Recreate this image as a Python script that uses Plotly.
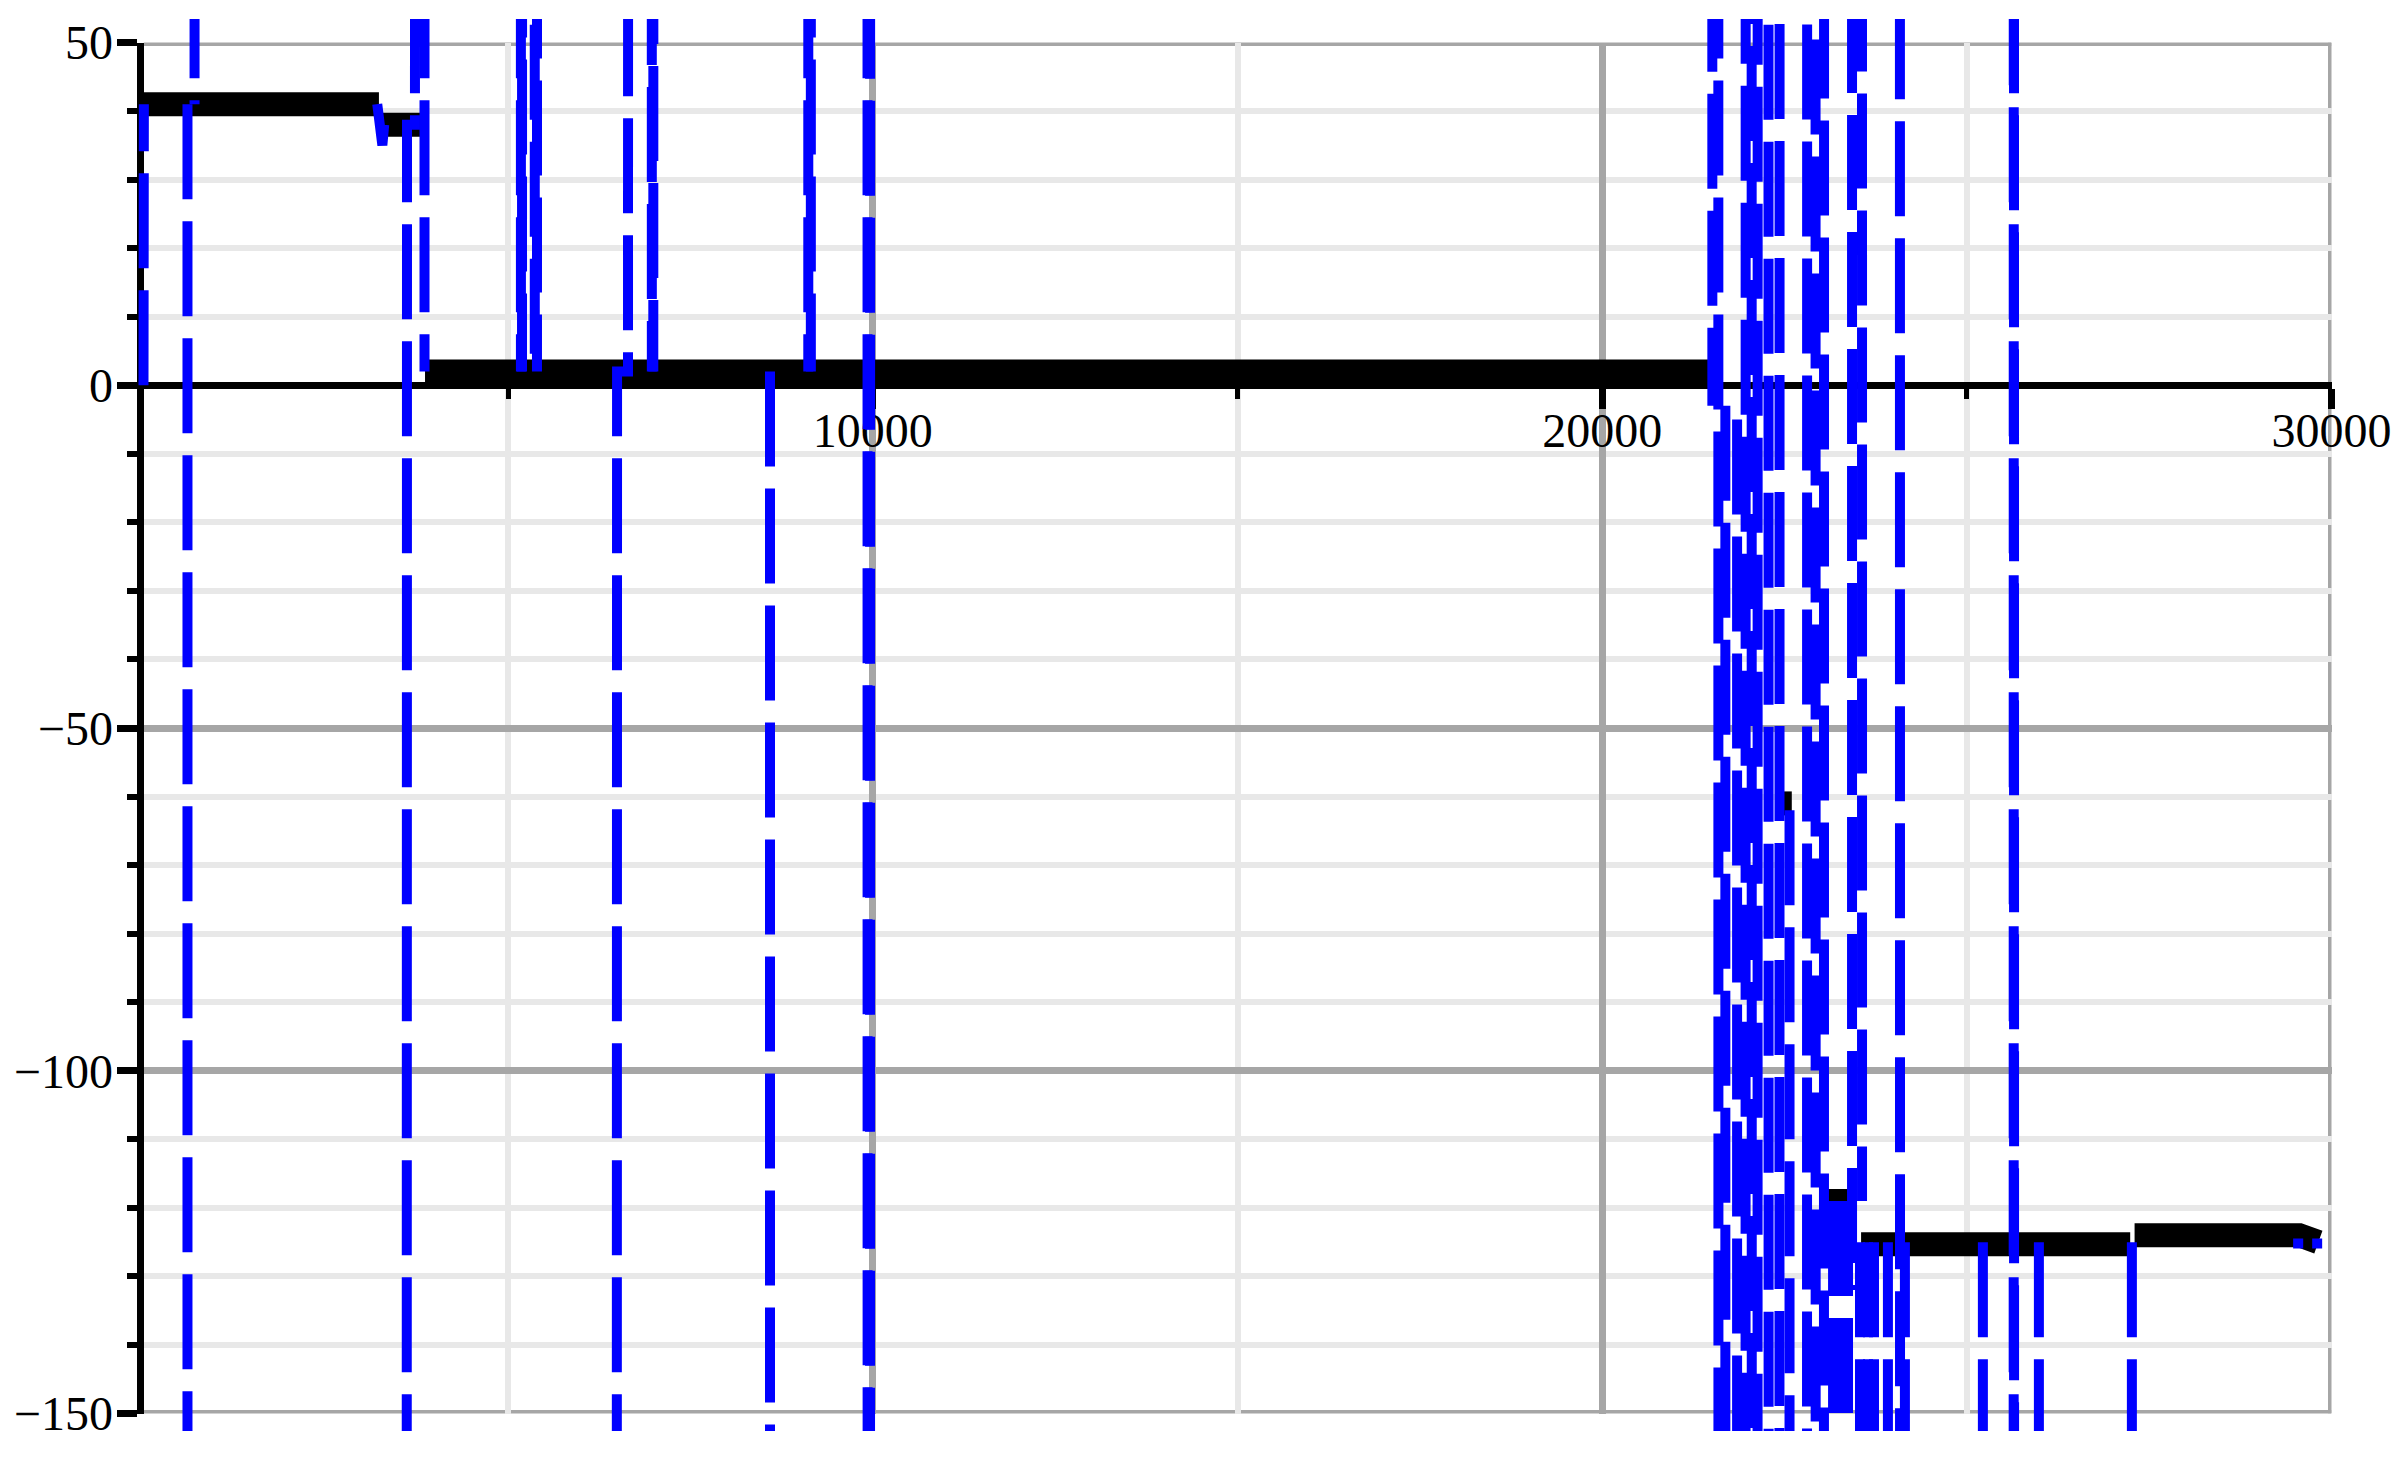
import plotly.graph_objects as go

# ---------------- data ----------------
# black series (None = break in the trace)
black_x = [0, 3228, None, 3240, 3830, None, 3860, 21480, None,
           22480, 22600, None, 23050, 23400, None,
           23550, 27240, None, 27300, 29560, 29820]
black_y = [41, 41, None, 38, 38, None, 2, 2, None,
           -61, -61, None, -119, -119, None,
           -125.3, -125.3, None, -124, -124, -125]

# blue dashed series; values beyond the view (about +/-400) are the off-scale excursions
blue_x = [0, 5, None,
          603, 603, None,
          700, 700, None,
          3205, 3225, 3275, 3300, None,
          3605, 3613, 3722, 3730, None,
          3853, 3853, None,
          5170, 5175, None, 5195, 5190, None,
          5360, 5365, None, 5400, 5395, None,
          6485, 6493, 6643, 6651, None,
          6965, 6970, None, 6995, 6990, None,
          8590, 8590, None,
          9115, 9115, None, 9150, 9150, None,
          9925, 9930, None, 9965, 9960, None,
          # dense region
          21505, 21511, None, 21590, 21596, None, 21689, 21689, None,
          21850, 21850, None, 21964, 21970, None, 22047, 22053, None,
          22129, 22135, None, 22278, 22284, None, 22429, 22435, None,
          22569, 22569, None, 22807, 22813, None, 22923, 22929, None,
          23039, 23045, None, 23166, 23166, None, 23275, 23275, None,
          23371, 23371, None, 23426, 23426, None, 23563, 23563, None,
          23535, 23535, None, 23645, 23645, None, 23727, 23727, None,
          23918, 23918, None, 24151, 24151, None, 24080, 24086, None,
          25220, 25220, None, 25641, 25645, 25649, None,
          25988, 25988, None, 27263, 27263, None,
          29474, 29612, None, 29735, 29872]
blue_y = [0, 41, None,
          41, -400, None,
          400, 41, None,
          41, 38, 35, 38, None,
          -400, 38, 38, 400, None,
          400, 2, None,
          400, 2, None, 423, 2, None,
          411, 2, None, 437, 2, None,
          -400, 2, 2, 400, None,
          419, 2, None, 405, 2, None,
          2, -400, None,
          400, 2, None, 423, 2, None,
          400, -400, None, 417, -411, None,
          # dense region
          418, -3, None, 437, -409, None, -3, -400, None,
          -5, -400, None, -431, 402, None, 425, -415, None,
          -397, 446, None, 411, -436, None, -422, 391, None,
          -62, -400, None, -405, 428, None, 443, -398, None,
          -419, 407, None, -119, -400, None, -119, -400, None,
          -119, -400, None, 432, -132, None, 401, -119, None,
          -125, -400, None, -125, -400, None, -125, -400, None,
          -125, -400, None, -125, -400, None, 414, -427, None,
          -125, -400, None, -400, 400, -388, None,
          -125, -400, None, -125, -400, None,
          -125.2, -125.2, None, -125.2, -125.2]

x_major = [10000, 20000, 30000]
x_minor = [5000, 15000, 25000]
y_range = [-150, 50]
x_range = [0, 30000]

# ---------------- layout geometry ----------------
W, H = 2397, 1463
ML, MR, MT, MB = 100, 30, 10, 20
PW, PH = W - ML - MR, H - MT - MB
X0, X1 = 143.5, 2331.5      # px of x=0 and x=30000
YT, YB = 42.5, 1413.5       # px of y=50 and y=-150


def xp(px):
    return (px - ML) / PW


def yp(px):
    return (H - MB - px) / PH


kx = (X1 - X0) / (x_range[1] - x_range[0])
ky = (YB - YT) / (y_range[1] - y_range[0])
# blue is drawn on an overlay subplot whose clip box is a little larger
bx_range = [-150, 30150]
by_range = [-152.55, 53.43]
bX0 = X0 - (x_range[0] - bx_range[0]) * kx
bX1 = X1 + (bx_range[1] - x_range[1]) * kx
bYT = YT - (by_range[1] - y_range[1]) * ky
bYB = YB + (y_range[0] - by_range[0]) * ky

ydom = [yp(YB), yp(YT)]
xpos = ydom[0] + (0 - y_range[0]) / (y_range[1] - y_range[0]) * (ydom[1] - ydom[0])

font = dict(family="Liberation Serif", size=48, color="black")
GRID_DARK = "#a6a6a6"
GRID_LIGHT = "#e8e8e8"

fig = go.Figure()
fig.add_trace(go.Scatter(x=black_x, y=black_y, mode="lines",
                         line=dict(color="black", width=24),
                         connectgaps=False, hoverinfo="skip"))
fig.add_trace(go.Scatter(x=blue_x, y=blue_y, mode="lines", xaxis="x2", yaxis="y2",
                         line=dict(color="#0000ff", width=10, dash="95px,22px"),
                         connectgaps=False, hoverinfo="skip"))

# frame lines (top, bottom, right) in the major-grid colour
for x0_, y0_, x1_, y1_ in [(x_range[0], y_range[1], x_range[1], y_range[1]),
                           (x_range[0], y_range[0], x_range[1], y_range[0]),
                           (x_range[1], y_range[0], x_range[1], y_range[1])]:
    fig.add_shape(type="line", xref="x", yref="y", x0=x0_, y0=y0_, x1=x1_, y1=y1_,
                  line=dict(color=GRID_DARK, width=7), layer="below")

fig.update_layout(
    width=W, height=H, showlegend=False,
    margin=dict(l=ML, r=MR, t=MT, b=MB, pad=0, autoexpand=False),
    paper_bgcolor="white", plot_bgcolor="rgba(0,0,0,0)",
    font=font,
    xaxis=dict(domain=[xp(X0), xp(X1)], range=x_range, anchor="free", position=xpos,
               showline=True, linecolor="black", linewidth=7,
               tickmode="array", tickvals=x_major, ticktext=[str(v) for v in x_major],
               ticks="outside", ticklen=20, tickwidth=7, tickcolor="black",
               showgrid=True, gridcolor=GRID_DARK, gridwidth=7, zeroline=False,
               tickfont=font, ticklabelstandoff=-20, automargin=False,
               minor=dict(tickmode="array", tickvals=x_minor, ticks="outside",
                          ticklen=10, tickwidth=5, tickcolor="black",
                          showgrid=True, gridcolor=GRID_LIGHT, gridwidth=6)),
    yaxis=dict(domain=ydom, range=y_range, anchor="x",
               showline=True, linecolor="black", linewidth=7,
               tickmode="linear", tick0=0, dtick=50,
               ticks="outside", ticklen=20, tickwidth=7, tickcolor="black",
               showgrid=True, gridcolor=GRID_DARK, gridwidth=7, zeroline=False,
               tickfont=font, ticklabelstandoff=-6, automargin=False,
               minor=dict(dtick=10, ticks="outside", ticklen=10, tickwidth=6,
                          tickcolor="black", showgrid=True, gridcolor=GRID_LIGHT,
                          gridwidth=6)),
    xaxis2=dict(domain=[xp(bX0), xp(bX1)], range=bx_range, anchor="y2", visible=False),
    yaxis2=dict(domain=[yp(bYB), yp(bYT)], range=by_range, anchor="x2", visible=False),
)

fig.write_html("out.html", config={"displayModeBar": False},
               post_script="document.body.style.margin='0';document.body.style.overflow='hidden';")
